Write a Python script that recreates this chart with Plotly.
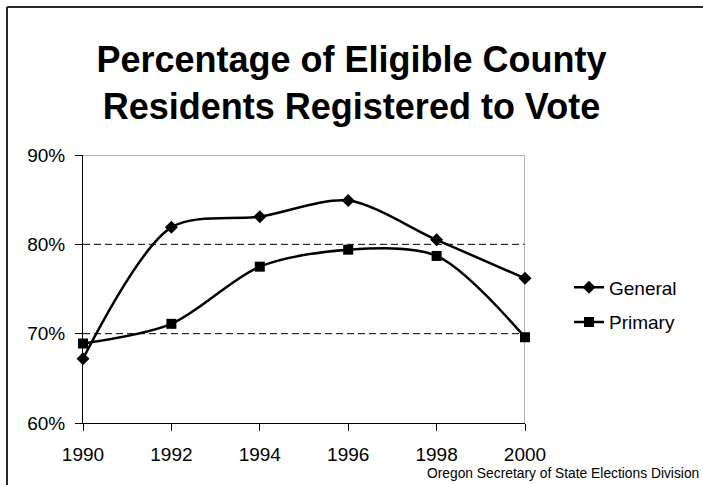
import plotly.graph_objects as go

years = [1990, 1992, 1994, 1996, 1998, 2000]
general = [67.2, 81.9, 83.1, 84.9, 80.5, 76.2]
primary = [68.9, 71.1, 77.5, 79.4, 78.7, 69.6]
series_names = ["General", "Primary"]
y_ticks = [60, 70, 80, 90]
y_tick_labels = ["60%", "70%", "80%", "90%"]
dashed_levels = [70, 80]
title_text = "Percentage of Eligible County<br>Residents Registered to Vote"
source_text = "Oregon Secretary of State Elections Division"

FONT = "Liberation Sans, Arial, sans-serif"
W, H = 703, 485
L, R, T, B = 83, 178, 155, 62
pw, ph = W - L - R, H - T - B

def px_x(p):
    return (p - L) / pw

def px_y(p):
    return (H - B - p) / ph

fig = go.Figure()
fig.add_trace(go.Scatter(
    x=years, y=general, name=series_names[0], mode="lines+markers",
    line=dict(color="black", width=2.5, shape="spline", smoothing=0.85),
    marker=dict(symbol="diamond", size=10, color="black"),
    cliponaxis=False, legendgroup="g",
))
fig.add_trace(go.Scatter(
    x=years, y=primary, name=series_names[1], mode="lines+markers",
    line=dict(color="black", width=2.5, shape="spline", smoothing=0.85),
    marker=dict(symbol="square", size=10, color="black"),
    cliponaxis=False, legendgroup="p",
))

shapes = []
for lv in dashed_levels:
    shapes.append(dict(type="line", xref="paper", yref="y", x0=0, x1=1, y0=lv, y1=lv,
                       line=dict(color="black", width=1, dash="7px,4px"), layer="below"))
# plot-area gray border (top and right)
shapes.append(dict(type="line", xref="paper", yref="y", x0=0, x1=1, y0=y_ticks[-1], y1=y_ticks[-1],
                   line=dict(color="#9a9a9a", width=1.5), layer="below"))
shapes.append(dict(type="line", xref="x", yref="y", x0=years[-1], x1=years[-1], y0=y_ticks[0], y1=y_ticks[-1],
                   line=dict(color="#9a9a9a", width=1.5), layer="below"))
# outer chart border (left and top visible)
shapes.append(dict(type="line", xref="paper", yref="paper", x0=px_x(7), x1=px_x(7), y0=px_y(495), y1=px_y(7),
                   line=dict(color="#2a2a2a", width=2)))
shapes.append(dict(type="line", xref="paper", yref="paper", x0=px_x(7), x1=px_x(712), y0=px_y(7), y1=px_y(7),
                   line=dict(color="#2a2a2a", width=2)))

fig.update_layout(
    width=W, height=H,
    margin=dict(l=L, r=R, t=T, b=B, pad=0),
    paper_bgcolor="white", plot_bgcolor="white",
    font=dict(family=FONT, color="black", size=19),
    title=dict(text="<b>" + title_text + "</b>", x=0.5, xref="container", xanchor="center",
               y=1 - 72 / H, yref="container", yanchor="middle",
               font=dict(family=FONT, size=36, color="black")),
    shapes=shapes,
    showlegend=True,
    legend=dict(x=px_x(569), xanchor="left", y=px_y(305), yanchor="middle",
                font=dict(family=FONT, size=19, color="black"),
                bgcolor="rgba(0,0,0,0)", tracegroupgap=7, traceorder="grouped"),
    annotations=[dict(text=source_text, xref="paper", yref="paper", x=px_x(701), y=px_y(473),
                      xanchor="right", yanchor="middle", showarrow=False,
                      font=dict(family=FONT, size=13.8, color="black"))],
)
fig.update_xaxes(range=[years[0], years[-1]], tickvals=years, ticktext=[str(y) for y in years],
                 showgrid=False, zeroline=False, showline=True, linecolor="black", linewidth=1,
                 ticks="outside", ticklen=7, tickcolor="black", tickwidth=1, ticklabelstandoff=7,
                 tickfont=dict(family=FONT, size=19, color="black"))
fig.update_yaxes(range=[y_ticks[0], y_ticks[-1]], tickvals=y_ticks, ticktext=y_tick_labels,
                 showgrid=False, zeroline=False, showline=True, linecolor="black", linewidth=1,
                 ticks="outside", ticklen=7, tickcolor="black", tickwidth=1, ticklabelstandoff=6,
                 tickfont=dict(family=FONT, size=19, color="black"))

fig.write_html("out.html")
